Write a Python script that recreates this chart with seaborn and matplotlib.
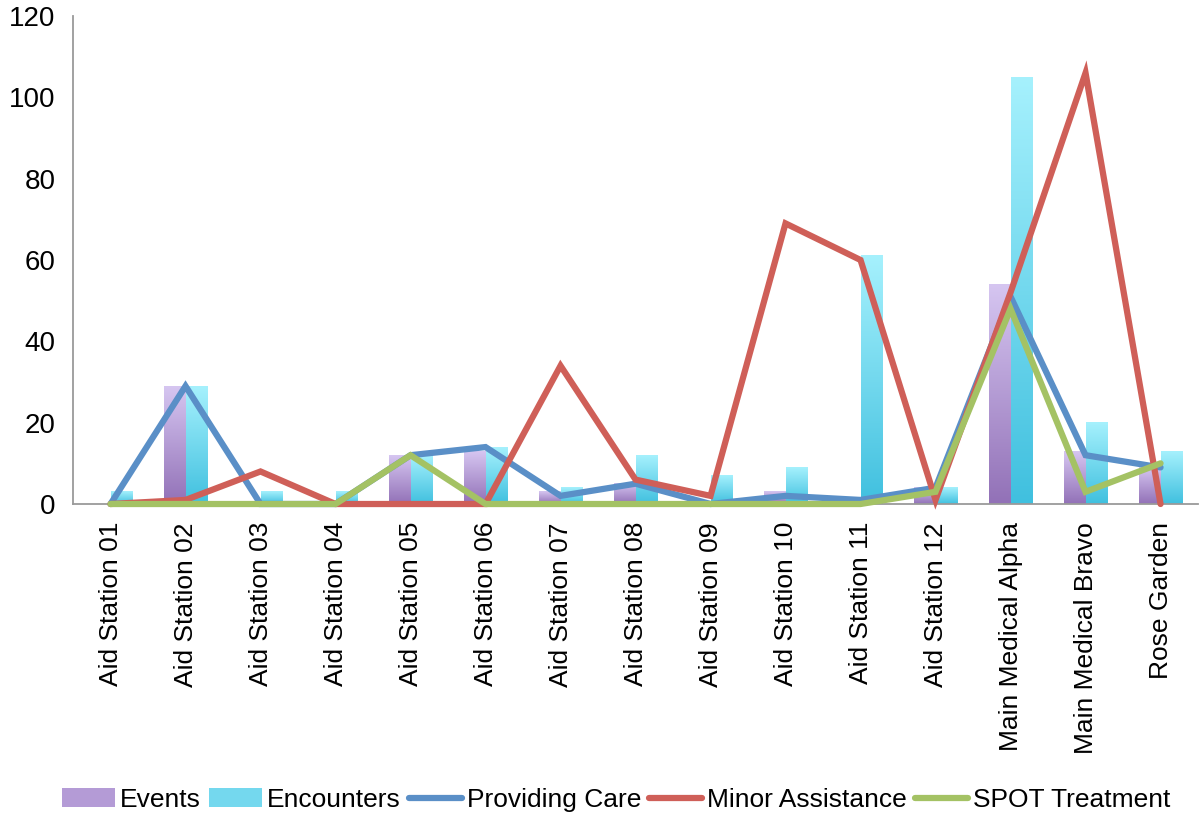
import numpy as np
import pandas as pd
import matplotlib
matplotlib.use('Agg')
import matplotlib.pyplot as plt
from matplotlib.colors import LinearSegmentedColormap
from matplotlib.patches import Patch
from matplotlib.lines import Line2D
import seaborn as sns

sns.set_theme(style='white')
plt.rcParams['font.family'] = ['Liberation Sans', 'DejaVu Sans']
plt.rcParams['text.color'] = 'black'
plt.rcParams['xtick.labelcolor'] = 'black'
plt.rcParams['ytick.labelcolor'] = 'black'

# data
stations = ['Aid Station 01', 'Aid Station 02', 'Aid Station 03', 'Aid Station 04',
            'Aid Station 05', 'Aid Station 06', 'Aid Station 07', 'Aid Station 08',
            'Aid Station 09', 'Aid Station 10', 'Aid Station 11', 'Aid Station 12',
            'Main Medical Alpha', 'Main Medical Bravo', 'Rose Garden']
events = [0, 29, 0, 0, 12, 13, 3, 5, 0, 3, 1, 4, 54, 13, 9]
encounters = [3, 29, 3, 3, 12, 14, 4, 12, 7, 9, 61, 4, 105, 20, 13]
providing_care = [0, 29, 0, 0, 12, 14, 2, 5, 0, 2, 1, 4, 51, 12, 9]
minor_assistance = [0, 1, 8, 0, 0, 0, 34, 6, 2, 69, 60, 1, 52, 106, 0]
spot_treatment = [0, 0, 0, 0, 12, 0, 0, 0, 0, 0, 0, 3, 48, 3, 10]

bar_series = ['Events', 'Encounters']
line_series = ['Providing Care', 'Minor Assistance', 'SPOT Treatment']

bar_df = pd.DataFrame({
    'Station': stations * 2,
    'Count': events + encounters,
    'Series': ['Events'] * len(stations) + ['Encounters'] * len(stations),
})
line_df = pd.DataFrame({
    'pos': list(range(len(stations))) * 3,
    'Count': providing_care + minor_assistance + spot_treatment,
    'Series': [s for s in line_series for _ in stations],
})

bar_grad = {
    'Events': ('#9271b7', '#d6c6f1'),
    'Encounters': ('#40c0df', '#a6f1fd'),
}
bar_mid = {'Events': '#b49bd6', 'Encounters': '#74d8ee'}
line_colors = {'Providing Care': '#5a8fc7', 'Minor Assistance': '#cf5f58',
               'SPOT Treatment': '#a4c264'}

fig = plt.figure(figsize=(11.99, 8.17), dpi=100)
ax = fig.add_axes([0.0609, 0.3831, 0.9383, 0.5973])

sns.barplot(data=bar_df, x='Station', y='Count', hue='Series', hue_order=bar_series,
            palette=bar_mid, width=0.586, gap=0, saturation=1, legend=False, ax=ax)

# vertical gradient fill on each bar, like the original
grad = np.linspace(0, 1, 256).reshape(-1, 1)
for cont, name in zip(ax.containers, bar_series):
    cmap = LinearSegmentedColormap.from_list(name, bar_grad[name])
    for p in cont.patches:
        h = p.get_height()
        p.set_visible(False)
        if h <= 0:
            continue
        x0 = p.get_x()
        ax.imshow(grad, extent=[x0, x0 + p.get_width(), 0, h], origin='lower',
                  cmap=cmap, aspect='auto', interpolation='bicubic', zorder=1)

sns.lineplot(data=line_df, x='pos', y='Count', hue='Series', hue_order=line_series,
             palette=line_colors, linewidth=4.5, sort=False, legend=False, ax=ax)
for ln in ax.lines:
    ln.set_clip_on(False)
    ln.set_zorder(3)
    ln.set_solid_joinstyle('miter')

ax.set_xlim(-0.5, len(stations) - 0.5)
ax.set_ylim(0, 120)
ax.set_yticks(range(0, 121, 20))
ax.set_xticks(range(len(stations)))
ax.set_xticklabels(stations, rotation=90, fontsize=19)
ax.set_xticks(np.arange(-0.5, len(stations), 1), minor=True)
ax.tick_params(axis='x', which='major', length=0, pad=13)
ax.tick_params(axis='x', which='minor', length=5, width=1.2, color='#9a9a9a', direction='out')
ax.tick_params(axis='y', length=4, width=1.2, color='#9a9a9a', direction='out',
               pad=8.5, labelsize=20)
ax.set_xlabel('')
ax.set_ylabel('')
for side in ['top', 'right']:
    ax.spines[side].set_visible(False)
for side in ['left', 'bottom']:
    ax.spines[side].set_color('#9a9a9a')
    ax.spines[side].set_linewidth(1.3)
ax.grid(False)

handles = [Patch(facecolor=bar_mid[s], edgecolor='none') for s in bar_series]
handles += [Line2D([0], [0], color=line_colors[s], linewidth=4.5) for s in line_series]
fig.legend(handles, bar_series + line_series, loc='center', bbox_to_anchor=(0.514, 0.021),
           ncol=5, frameon=False, fontsize=19, handlelength=2.0, handletextpad=0.2,
           columnspacing=0.3, borderaxespad=0, labelcolor='black')

fig.savefig('out.png', dpi=100)
